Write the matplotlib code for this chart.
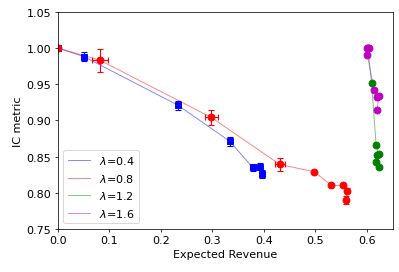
import numpy as np
import matplotlib
matplotlib.use("Agg")
import matplotlib.pyplot as plt

plt.rcParams["font.size"] = 12

# lambda = 0.4 (blue)
x04 = [0.0, 0.051, 0.233, 0.334, 0.378, 0.392, 0.397]
y04 = [1.000, 0.988, 0.921, 0.871, 0.835, 0.836, 0.826]
x04_err = [0.0, 0.004, 0.004, 0.004, 0.004, 0.004, 0.004]
y04_err = [0.0, 0.006, 0.006, 0.006, 0.005, 0.005, 0.006]

# lambda = 0.8 (red)
x08 = [0.0, 0.082, 0.298, 0.431, 0.498, 0.531, 0.554, 0.562, 0.560]
y08 = [1.000, 0.983, 0.904, 0.839, 0.829, 0.810, 0.810, 0.803, 0.790]
x08_err = [0.0, 0.016, 0.012, 0.010, 0.0, 0.0, 0.0, 0.0, 0.0]
y08_err = [0.0, 0.016, 0.010, 0.009, 0.0, 0.0, 0.0, 0.004, 0.005]

# lambda = 1.2 (green)
x12 = [0.602, 0.609, 0.618, 0.623, 0.619, 0.617, 0.624]
y12 = [1.000, 0.952, 0.866, 0.853, 0.852, 0.843, 0.836]

# lambda = 1.6 (magenta)
x16 = [0.600, 0.604, 0.601, 0.614, 0.619, 0.623, 0.620]
y16 = [1.000, 1.000, 0.990, 0.942, 0.932, 0.933, 0.915]

labels = ["$\\lambda$=0.4", "$\\lambda$=0.8", "$\\lambda$=1.2", "$\\lambda$=1.6"]

fig = plt.figure(figsize=(6, 4.105), dpi=66.5)
ax = fig.add_subplot(1, 1, 1)
fig.subplots_adjust(left=0.145, right=0.984, top=0.953, bottom=0.158)

ax.plot(x04, y04, color="blue", alpha=0.5, lw=1, label=labels[0])
ax.plot(x08, y08, color="red", alpha=0.5, lw=1, label=labels[1])
ax.plot(x12, y12, color="green", alpha=0.5, lw=1, label=labels[2])
ax.plot(x16, y16, color="m", alpha=0.5, lw=1, label=labels[3])

ax.errorbar(x04, y04, xerr=x04_err, yerr=y04_err, fmt="s", color="blue",
            ms=6.5, capsize=3.5, elinewidth=1.2, capthick=1.2)
ax.errorbar(x08, y08, xerr=x08_err, yerr=y08_err, fmt="o", color="red",
            ms=7.5, capsize=3.5, elinewidth=1.2, capthick=1.2)
ax.plot(x12, y12, "o", color="green", ms=7.5)
ax.plot(x16, y16, "o", color="m", ms=7.5)

ax.set_xlim(0, 0.65)
ax.set_ylim(0.75, 1.05)
ax.set_xticks(np.arange(0, 0.61, 0.1))
ax.set_yticks(np.arange(0.75, 1.051, 0.05))
ax.set_xlabel("Expected Revenue")
ax.set_ylabel("IC metric")
ax.legend(loc="lower left")
fig.savefig("out.png", dpi=66.5)
